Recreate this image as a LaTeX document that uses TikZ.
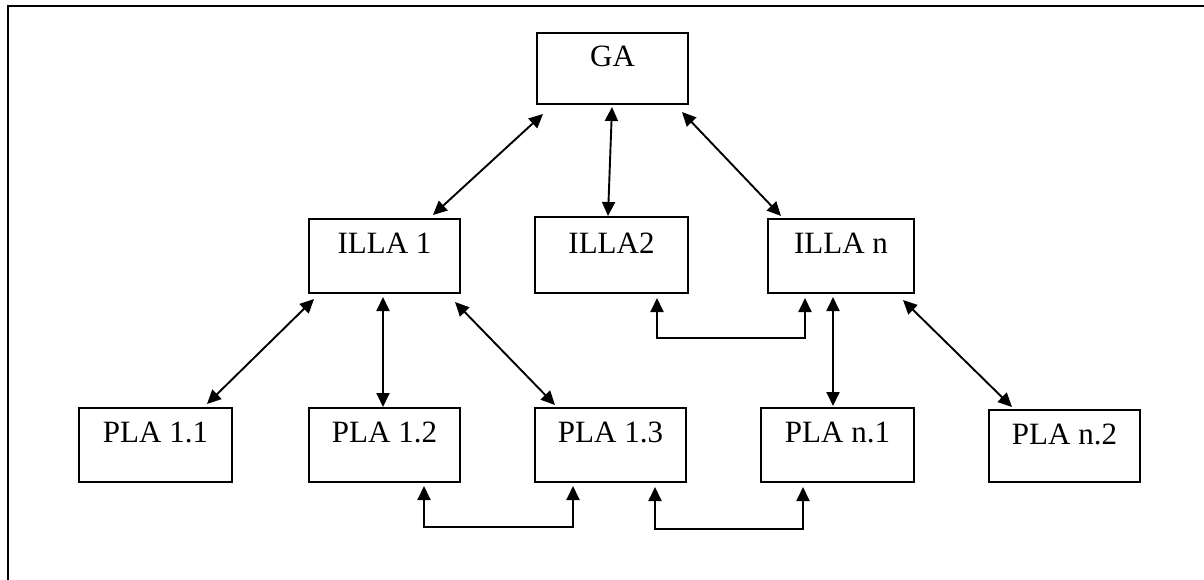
\documentclass[tikz,border=0pt]{standalone}
\usepackage{fontspec}
\setmainfont{Liberation Serif}
\usetikzlibrary{arrows.meta,calc}

\tikzset{
  agentbox/.style={draw, line width=2pt, rectangle, anchor=north west,
    inner xsep=0pt, inner ysep=0pt, text height=34pt, text depth=40pt,
    font=\fontsize{31}{37}\selectfont},
  tipshape/.style={Triangle[length=14pt,width=13pt]},
  link/.style={line width=1.9pt, {Triangle[length=14pt,width=13pt]}-{Triangle[length=14pt,width=13pt]}},
}

\begin{document}
\begin{tikzpicture}[x=1pt, y=-1pt]
  \useasboundingbox (0,0) rectangle (1204,580);

  % outer frame
  \draw[line width=2.5pt] (8,582) -- (8,6) -- (1206,6);

  % global agent
  \node[agentbox, minimum width=151pt, text depth=37pt] (GA) at (536,32) {GA};

  % intermediate level agents
  \node[agentbox, minimum width=151pt] (ILLA1) at (308,218) {ILLA 1};
  \node[agentbox, minimum width=153pt, text height=36pt] (ILLA2) at (534,216) {ILLA2};
  \node[agentbox, minimum width=146pt] (ILLAn) at (767,218) {ILLA n};

  % lowest level agents
  \node[agentbox, minimum width=153pt] (PLA11) at (78,407) {PLA 1.1};
  \node[agentbox, minimum width=151pt] (PLA12) at (308,407) {PLA 1.2};
  \node[agentbox, minimum width=151pt] (PLA13) at (534,407) {PLA 1.3};
  \node[agentbox, minimum width=153pt] (PLAn1) at (760,407) {PLA n.1};
  \node[agentbox, minimum width=151pt, text depth=38pt] (PLAn2) at (988,409) {PLA n.2};

  % GA to intermediate level
  \draw[link] ($(GA.south west)+(7,9)$) -- ($(ILLA1.north east)+(-28,-3)$);
  \draw[link] ($(GA.south west)+(76,2)$) -- ($(ILLA2.north west)+(74,0)$);
  \draw[link] ($(GA.south east)+(-7,7)$) -- ($(ILLAn.north west)+(14,-2)$);

  % intermediate to lowest level
  \draw[link] ($(ILLA1.south west)+(6,5)$) -- ($(PLA11.north east)+(-26,-3)$);
  \draw[link] ($(ILLA1.south west)+(75,3)$) -- ($(PLA12.north west)+(75,0)$);
  \draw[link] ($(ILLA1.south east)+(-6,8)$) -- ($(PLA13.north west)+(21,-2)$);
  \draw[link] ($(ILLAn.south west)+(66,3)$) -- ($(PLAn1.north west)+(73,-1)$);
  \draw[link] ($(ILLAn.south east)+(-12,6)$) -- ($(PLAn2.north west)+(24,-2)$);

  % peer links
  \draw[link] ($(ILLA2.south west)+(123,4)$) -- ++(0,40) -| ($(ILLAn.south west)+(38,4)$);
  \draw[link] ($(PLA12.south west)+(116,3)$) -- ++(0,41) -| ($(PLA13.south west)+(39,3)$);
  \draw[link] ($(PLA13.south west)+(121,4)$) -- ++(0,42) -| ($(PLAn1.south west)+(43,4)$);
\end{tikzpicture}
\end{document}
